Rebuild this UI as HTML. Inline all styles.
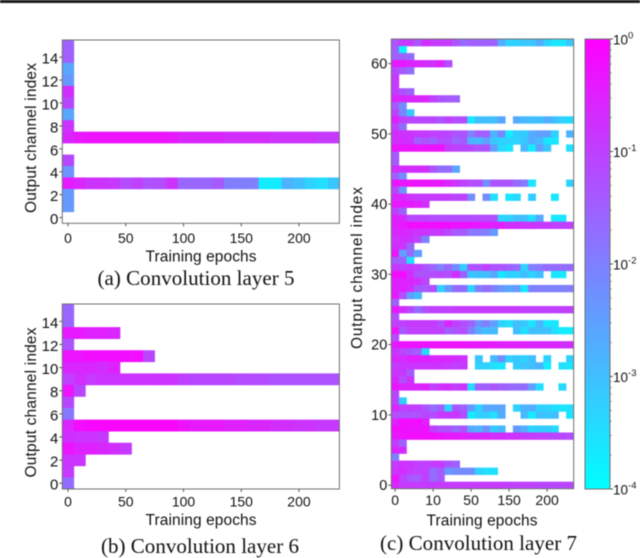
<!DOCTYPE html>
<html lang="en">
<head>
<meta charset="utf-8">
<title>Output channel activity per convolution layer</title>
<style>
html,body{margin:0;padding:0;background:#fff;width:640px;height:558px;overflow:hidden}
svg{display:block;filter:blur(0.4px)}
text{font-family:"Liberation Sans",sans-serif;fill:#111}
.cap{font-family:"Liberation Serif",serif;font-size:21px;fill:#111}
.tick{font-size:14px}
.title{font-size:15.5px}
</style>
</head>
<body>
<svg id="figure" xmlns="http://www.w3.org/2000/svg" width="640" height="558" viewBox="0 0 640 558">
  <rect x="0" y="0" width="640" height="3" fill="#1c1c1c"/>
  <g id="panel-a"></g>
  <g id="panel-b"></g>
  <g id="panel-c"></g>
  <g id="colorbar"></g>

  <text class="title" x="201" y="261.5" text-anchor="middle" textLength="111">Training epochs</text>
  <text class="title" transform="translate(36,138) rotate(-90)" text-anchor="middle" textLength="150">Output channel index</text>
  <text class="cap" x="97.5" y="285" textLength="197">(a) Convolution layer 5</text>

  <text class="title" x="201" y="525" text-anchor="middle" textLength="111">Training epochs</text>
  <text class="title" transform="translate(36,402.5) rotate(-90)" text-anchor="middle" textLength="150">Output channel index</text>
  <text class="cap" x="101" y="553" textLength="198">(b) Convolution layer 6</text>

  <text class="title" x="482" y="525.5" text-anchor="middle" textLength="111">Training epochs</text>
  <text class="title" transform="translate(362,268) rotate(-90)" text-anchor="middle" textLength="162">Output channel index</text>
  <text class="cap" x="380" y="550" textLength="197">(c) Convolution layer 7</text>
</svg>
<script>
// Heat values are log10 of the colour value, in tenths of a decade (-10 = 1e-1). Empty cell = _.
const _ = null;
const epochCategories = [0,10,20,30,40,50,60,70,80,90,100,110,120,130,140,150,160,170,180,190,200,210,220,230];

// Rows listed from the top channel down to channel 0.
const layer5Values = [
  [-15],
  [-15],
  [-26],
  [-24],
  [-7],
  [-11],
  [-26],
  [-8],
  [-6,-4,-3,-3,-3,-3,-3,-3,-3,-4,-6,-6,-6,-6,-7,-7,-7,-7,-8,-8,-8,-8,-9,-9],
  [],
  [-11],
  [-23],
  [-4,-6,-8,-8,-9,-12,-10,-13,-12,-8,-16,-16,-16,-14,-20,-20,-20,-37,-37,-28,-30,-33,-35,-31],
  [-24],
  [-24],
  []
];

const layer6Values = [
  [-16],
  [-16],
  [-4,-4,-5,-5,-6],
  [-13],
  [-3,-3,-2,-2,-2,-2,-2,-11],
  [-6,-6,-6,-7,-5],
  [-10,-7,-9,-8,-8,-8,-8,-8,-8,-8,-10,-11,-11,-11,-11,-12,-12,-12,-13,-13,-13,-13,-13,-13],
  [-3,-11],
  [-11],
  [-19],
  [-6,-2,-1,-1,-1,-1,-1,-1,-1,-1,-3,-4,-4,-4,-5,-5,-6,-6,-7,-7,-8,-8,-9,-9],
  [-7,-8,-8,-9],
  [-3,-5,-5,-6,-7,-9],
  [-8,-8],
  [-9],
  [-17]
];

const layer7Values = [
  [-13,-9,-9,-13,-7,-9,-9,-9,-13,-17,-15,-15,-15,-15,-27,-33,-33,-31,-31,-27,-33,-36,-36,-31],
  [-15,-38],
  [-15,-15,-17],
  [-4,-4,-5,-6,-7,-7,-5,-12],
  [-11,-14,-17],
  [-9],
  [-9],
  [-9,-13,-15],
  [-6,-6,-6,-6,-6,-10,-13,-14,-15],
  [-14,-22],
  [-10,-21,-31],
  [-5,-10,-11,-11,-11,-11,-13,-10,-12,-12,-36,-30,-30,-30,-26,_,-27,-29,-30,-30,-27,-30,-33,-34],
  [-10,-17],
  [-7,-8,-8,-9,-9,-10,-10,-11,-13,-13,-20,-15,-15,-28,-21,-37,-32,-32,-27,-25,-25,-33,_,-28],
  [-7,-7,-8,-15,-13,-15,-12,-12,-16,-14,-28,-29,-25,-31,-33,-33,-33,-31,-27,-29,-36,-36],
  [-3,-3,-3,-3,-3,-3,-3,-9,-10,-11,-11,-13,-13,-25,-34,-36,_,-29,-37,-25,-31,_,_,-35],
  [-14],
  [-14],
  [-7,-7,-7,-7,-7,-13,-17,-17,-26],
  [-15,-22],
  [-3,-3,-3,-3,-3,-4,-4,-6,-8,-10,-12,-12,-22,-13,-13,-13,-17,-19,-36,_,_,_,_,-33],
  [-11,-23],
  [-6,-6,-8,-9,-9,-9,-9,-9,-11,-10,-22,_,-22,-35,_,-36,-34,_,-32,_,_,-36],
  [-4,-4,-4,-5,-7],
  [-10,-15],
  [-5,-6,-11,-11,-11,-12,-12,-12,-12,-12,-12,-12,-12,-12,-33,-33,-30,-30,-35,-26,_,-36,-36],
  [-5,-4,-2,-2,-2,-2,-2,-2,-3,-3,-3,-4,-4,-5,-5,-7,-7,-8,-8,-9,-9,-10,-10,-10],
  [-6,-6,-7,-8,-8,-9,-9,-11,-14,-14,-19,-19,-20,-24],
  [-8,-7,-8,-11,-21],
  [-7,-8,-16],
  [-3,-25,-17,-25],
  [-14,-15,-35],
  [-9,-10,-9,-10,-13,-16,-20,-16,-22,-32,-13,-13,-10,-13,-13,-15,-17,-33,-20,-19,-17,-17,-17,-17],
  [-2,-2,-7,-13,-13,-12,-11,-12,-7,-15,-31,-30,-30,-26,-36,-33,-33,-30,-33,-30,_,-36,-36],
  [-5,-5,-6,-7,-11],
  [-5,-5,-7,-14,-14,-12,-33,-24,-17,-17,-33,-20,-17,-20,-24,-26,-24,-36,-20,-20,-20,-20,-20,-20],
  [-4,-12,-25,-29],
  [-15],
  [-4,-7,-11,-17,-12,-10,-10,-10,-9,-9,-9,-9,-9,-9,-9,-9,-9,-10,-10,-10,-10,-10,-10,-10],
  [-12],
  [-10,-10,-9,-9,-9,-9,-12,-6,-10,-12,-15,-23,-20,-25,-33,-35,-30,-31,-36,-28,-36,-36],
  [-3,-14,-10,-10,-10,-10,-10,-15,-13,-12,-20,-27,-30,-29,_,_,-30,-35,-30,-30,-30,-35,-37,-37],
  [-12],
  [-4,-3,-3,-3,-3,-3,-3,-3,-3,-3,-4,-4,-4,-4,-5,-5,-5,-5,-6,-6,-6,-6,-7,-7],
  [-8,-11,-13,-15,-34],
  [-6,-7,-5,-5,-5,-6,-6,-6,-7,-8,_,-31,_,-29,-22,-33,-31,-33,-30,_,-33,_,_,-33],
  [-9,-8,-8,-8,-8,-8,-8,-9,-10,-9,_,-33,-33,-35,-36,_,-32,-31,-30,-28,-37,_,-35,-36],
  [-8,-9,-14],
  [-6,-12,-8],
  [-3,-6,-6,-6,-5,-10,-8,-7,-10,-8,-34,-15,-15,-13,-15,-16,-17,-17,-25,-35,_,_,-34],
  [-11],
  [-10,-32],
  [-6,-10,-9,-10,-13,-17,-15,-33,-13,-15,-24,-33,-26,-26,-26,_,-33,-28,-27,-33,-33,-35,-36,-35],
  [-12,-13,-13,-13,-11,-12,-9,-9,-8,-12,-37,-33,-32,-35,-27,_,_,-29,-37,-30,-31,-30,_,-36],
  [-5,-2,-2,-2,-5],
  [-2,-2,-3,-3,-3,-10,-13,-13,-16,-13,-26,-28,-23,-31,-29,_,-24,-27,-33,-32,-32,-34],
  [-4,-3,-2,-2,-2,-2,-3,-4,-4,-5,-6,-6,-6,-7,-7,-8,-8,-9,-9,-10,-10,-11,-11,-12],
  [-9,-15],
  [-6,-7],
  [-20],
  [-9,-8,-8,-10,-10,-9,-9,-13,-15],
  [-8,-7,-9,-10,-10,-17,-14,-24,-22,-22,-22,-33,-35,-35],
  [-3,-10,-14,-14,-10,-17,-14],
  [-6,-9,-9,-9,-9,-9,-9,-9,-9,-9,-9,-9,-9,-9,-9,-10,-10,-10,-10,-11,-11,-11,-11,-11]
];

const xTickEpochs = [0,50,100,150,200];
const xTickLabelsAB = ["0","50","100","150","200"];
const xTickLabelsC = ["0","10","50","150","200"];
const yTicksAB = [0,2,4,6,8,10,12,14];
const yTicksC = [0,10,20,30,40,50,60];
const colorbarDecades = [0,-1,-2,-3,-4];
const colorbarMinorFactors = [2,3,4,5,6,7,8,9];

const SVGNS = "http://www.w3.org/2000/svg";
function make(tag, attrs, parent){
  const el = document.createElementNS(SVGNS, tag);
  for (const k in attrs) el.setAttribute(k, attrs[k]);
  parent.appendChild(el);
  return el;
}
function coolColor(logTenths){
  const t = Math.max(0, Math.min(1, (logTenths / 10 + 4) / 4));
  const r = Math.round(255 * t), g = Math.round(255 * (1 - t));
  return "rgb(" + r + "," + g + ",255)";
}
function drawPanel(groupId, box, rowsTopDown, yTicks, xLabels, labelTail){
  const g = document.getElementById(groupId);
  const n = rowsTopDown.length;
  const xScale = e => box.l + (e + 5) / (epochCategories.length * 10) * (box.r - box.l);
  const yScale = c => box.b - (c + 0.5) / n * (box.b - box.t);
  const rowH = (box.b - box.t) / n;
  const colW = xScale(10) - xScale(0);
  rowsTopDown.forEach((row, i) => {
    const channel = n - 1 - i;
    row.forEach((v, j) => {
      if (v === null || v === undefined) return;
      const cell = make("rect", {
        x: xScale(epochCategories[j]) - colW / 2,
        y: yScale(channel) - rowH / 2,
        width: colW + 0.3,
        height: rowH + 0.3,
        fill: coolColor(v)
      }, g);
      
      
    });
  });
  const frame = make("rect", {x: box.l, y: box.t, width: box.r - box.l, height: box.b - box.t, fill: "none", stroke: "#707070", "stroke-width": 1}, g);
  
  
  xTickEpochs.forEach((e, i) => {
    const tick = make("line", {x1: xScale(e), x2: xScale(e), y1: box.b, y2: box.b + 3, stroke: "#555", "stroke-width": 1}, g);
    
    
    const label = make("text", {x: xScale(e), y: box.xLabelY, "text-anchor": "middle", class: "tick"}, g);
    
    
    label.textContent = xLabels[i];
  });
  yTicks.forEach(c => {
    const tick = make("line", {x1: box.l - 3, x2: box.l, y1: yScale(c), y2: yScale(c), stroke: "#555", "stroke-width": 1}, g);
    
    
    const label = make("text", {x: box.l - 4, y: yScale(c) + labelTail, "text-anchor": "end", class: "tick", style: "font-size:" + box.yFont + "px"}, g);
    
    
    label.textContent = c;
  });
}
drawPanel("panel-a", {l: 62.3, r: 339.4, t: 40, b: 223.3, xLabelY: 243, yFont: 15}, layer5Values, yTicksAB, xTickLabelsAB, 6.5);
drawPanel("panel-b", {l: 62.3, r: 339.4, t: 304, b: 489, xLabelY: 506.5, yFont: 15}, layer6Values, yTicksAB, xTickLabelsAB, 6.5);
drawPanel("panel-c", {l: 391.3, r: 573.7, t: 39, b: 488.7, xLabelY: 505, yFont: 14.5}, layer7Values, yTicksC, xTickLabelsC, 5);

(function drawColorbar(){
  const g = document.getElementById("colorbar");
  const box = {l: 585, r: 610, t: 39, b: 489};
  const yScale = d => box.t + (0 - d) / 4 * (box.b - box.t);
  const defs = make("defs", {}, g);
  const grad = make("linearGradient", {id: "cool-gradient", x1: 0, y1: 0, x2: 0, y2: 1}, defs);
  make("stop", {offset: "0", "stop-color": coolColor(0)}, grad);
  make("stop", {offset: "1", "stop-color": coolColor(-40)}, grad);
  const bar = make("rect", {x: box.l, y: box.t, width: box.r - box.l, height: box.b - box.t, fill: "url(#cool-gradient)", stroke: "#707070", "stroke-width": 1}, g);
  
  
  colorbarDecades.forEach(d => {
    const y = yScale(d);
    const tick = make("line", {x1: box.r, x2: box.r + 3, y1: y, y2: y, stroke: "#555", "stroke-width": 1}, g);
    
    
    const label = make("text", {x: box.r + 3, y: y + 5.5, style: "font-size:13.5px"}, g);
    
    
    const base = make("tspan", {}, label);
    base.textContent = "10";
    const sup = make("tspan", {dy: -6, style: "font-size:9.5px"}, label);
    sup.textContent = d;
    if (d > -4) {
      colorbarMinorFactors.forEach(f => {
        const my = yScale(d - 1 + Math.log10(f));
        const minor = make("line", {x1: box.r, x2: box.r + 1.8, y1: my, y2: my, stroke: "#777", "stroke-width": 0.7}, g);
        
        
      });
    }
  });
})();
</script>
</body>
</html>
